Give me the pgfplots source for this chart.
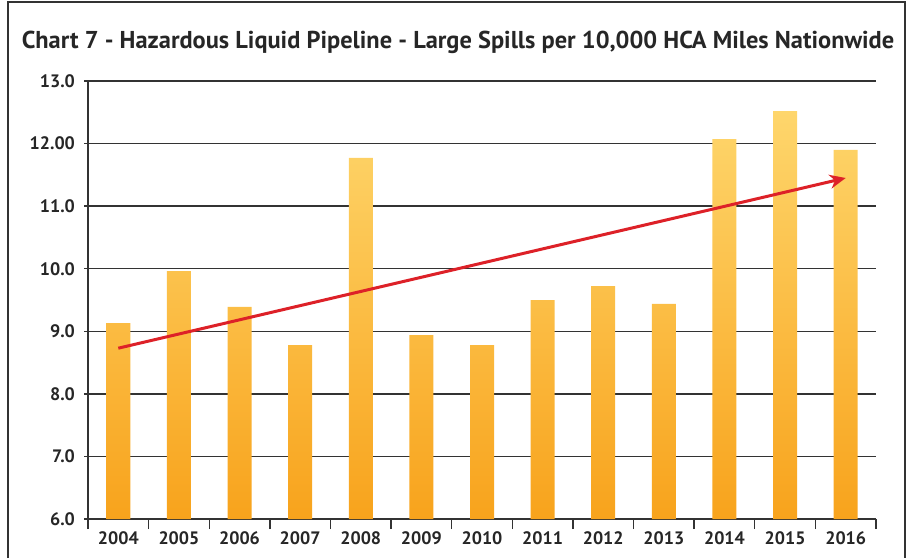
\documentclass[border=0pt]{standalone}
\usepackage{pgfplots}
\pgfplotsset{compat=1.18}
\usetikzlibrary{arrows.meta}
\usepackage{fontspec}
\setmainfont{PT Sans}
\definecolor{barTop}{HTML}{FED66C}
\definecolor{barBot}{HTML}{F8A31C}
\definecolor{trend}{HTML}{DD2128}
\definecolor{axgray}{HTML}{333333}
\begin{document}
\begin{tikzpicture}
  % 1 px of the reference = 0.5pt
  \useasboundingbox (0pt,0pt) rectangle (457pt,279pt);
  % outer frame (bottom edge is cut off in the reference)
  \draw[axgray, line width=0.8pt] (4pt,0pt) -- (4pt,278pt) -- (452.5pt,278pt) -- (452.5pt,0pt);
  \node[font=\bfseries\fontsize{12.2}{14}\selectfont, text=black!85] at (229pt,258pt)
    {Chart 7 - Hazardous Liquid Pipeline - Large Spills per 10,000 HCA Miles Nationwide};
  \begin{axis}[
    at={(44pt,19.5pt)}, anchor=south west,
    scale only axis, width=394pt, height=219pt,
    xmin=-0.5, xmax=12.5, ymin=6, ymax=13,
    axis lines*=left,
    axis line style={axgray, line width=0.7pt},
    xtick={0,...,12},
    xticklabels={2004,2005,2006,2007,2008,2009,2010,2011,2012,2013,2014,2015,2016},
    minor xtick={-0.5,0.5,...,12.5},
    major x tick style={draw=none},
    minor tick length=5pt,
    tick align=outside,
    ytick={6,7,8,9,10,11,12,13},
    yticklabels={6.0,7.0,8.0,9.0,10.0,11.0,12.00,13.0},
    major tick length=2pt,
    tick style={axgray, line width=0.7pt},
    ymajorgrids,
    grid style={axgray, line width=0.75pt},
    ticklabel style={font=\bfseries\fontsize{9}{10}\selectfont, text=black!85},
    /pgf/number format/assume math mode=true,
    xticklabel style={yshift=-1pt},
    yticklabel style={xshift=-1pt},
    clip=false,
  ]
    \addplot[ybar, bar width=12pt, draw=none, top color=barTop, bottom color=barBot]
      coordinates {
        (0,9.13) (1,9.96) (2,9.39) (3,8.78) (4,11.77) (5,8.94) (6,8.78)
        (7,9.50) (8,9.72) (9,9.44) (10,12.07) (11,12.52) (12,11.90)
      };
    \addplot[trend, line width=1.5pt, -{Stealth[length=8pt,width=7pt]}]
      coordinates {(0,8.73) (12,11.45)};
  \end{axis}
\end{tikzpicture}
\end{document}
